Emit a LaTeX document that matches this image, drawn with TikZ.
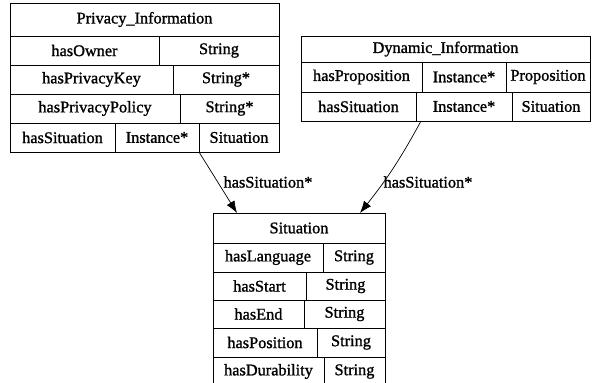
\documentclass[tikz,border=0pt]{standalone}
\usepackage{fontspec}
\setmainfont[FakeBold=1.2]{Liberation Serif}
\usetikzlibrary{arrows.meta}

% one table cell: name, left, top, right, bottom, text
\newcommand{\tcell}[6]{%
  \node[cell, minimum width={(#4-#2)*1pt}, minimum height={(#5-#3)*1pt}]
    (#1) at ({(#2+#4)/2},{(#3+#5)/2}) {#6};}

\begin{document}
\begin{tikzpicture}[x=1pt, y=-1pt,
  cell/.style={draw, line width=0.9pt, inner sep=0pt, outer sep=0pt,
    font=\fontsize{16.3}{18}\selectfont},
  link/.style={line width=0.7pt, -{Latex[length=12pt, width=9pt]}},
  linklabel/.style={font=\fontsize{16.3}{18}\selectfont, inner sep=0pt}]
\fill[white] (0,0) rectangle (593,382);
\useasboundingbox (0,0) rectangle (593,382);
\clip (0,0) rectangle (593,382);

% Privacy_Information
\tcell{p0}{10}{3}{279}{36}{Privacy\_Information}
\tcell{p1a}{10}{36}{159}{65}{hasOwner}
\tcell{p1b}{159}{36}{279}{65}{String}
\tcell{p2a}{10}{65}{173}{94}{hasPrivacyKey}
\tcell{p2b}{173}{65}{279}{94}{String*}
\tcell{p3a}{10}{94}{180}{123}{hasPrivacyPolicy}
\tcell{p3b}{180}{94}{279}{123}{String*}
\tcell{p4a}{10}{123}{115}{152}{hasSituation}
\tcell{p4b}{115}{123}{199}{152}{Instance*}
\tcell{p4c}{199}{123}{279}{152}{Situation}

% Dynamic_Information
\tcell{d0}{301}{36}{590}{62}{Dynamic\_Information}
\tcell{d1a}{301}{62}{422}{92}{hasProposition}
\tcell{d1b}{422}{62}{506}{92}{Instance*}
\tcell{d1c}{506}{62}{590}{92}{Proposition}
\tcell{d2a}{301}{92}{416}{121}{hasSituation}
\tcell{d2b}{416}{92}{512}{121}{Instance*}
\tcell{d2c}{512}{92}{590}{121}{Situation}

% Situation
\tcell{s0}{213}{213}{385}{243}{Situation}
\tcell{s1a}{213}{243}{323}{272}{hasLanguage}
\tcell{s1b}{323}{243}{385}{272}{String}
\tcell{s2a}{213}{272}{306}{300}{hasStart}
\tcell{s2b}{306}{272}{385}{300}{String}
\tcell{s3a}{213}{300}{304}{328}{hasEnd}
\tcell{s3b}{304}{300}{385}{328}{String}
\tcell{s4a}{213}{328}{317}{357}{hasPosition}
\tcell{s4b}{317}{328}{385}{357}{String}
\tcell{s5a}{213}{357}{324}{386}{hasDurability}
\tcell{s5b}{324}{357}{385}{386}{String}

% references to Situation
\draw[link] (p4c.south west) -- ([xshift=24pt]s0.north west);
\draw[link] ([xshift=5pt]d2b.south west) to[bend left=5] ([xshift=-25pt]s0.north east);
\node[linklabel] (l1) at (268,182) {hasSituation*};
\node[linklabel] (l2) at (428,182) {hasSituation*};
\end{tikzpicture}
\end{document}
